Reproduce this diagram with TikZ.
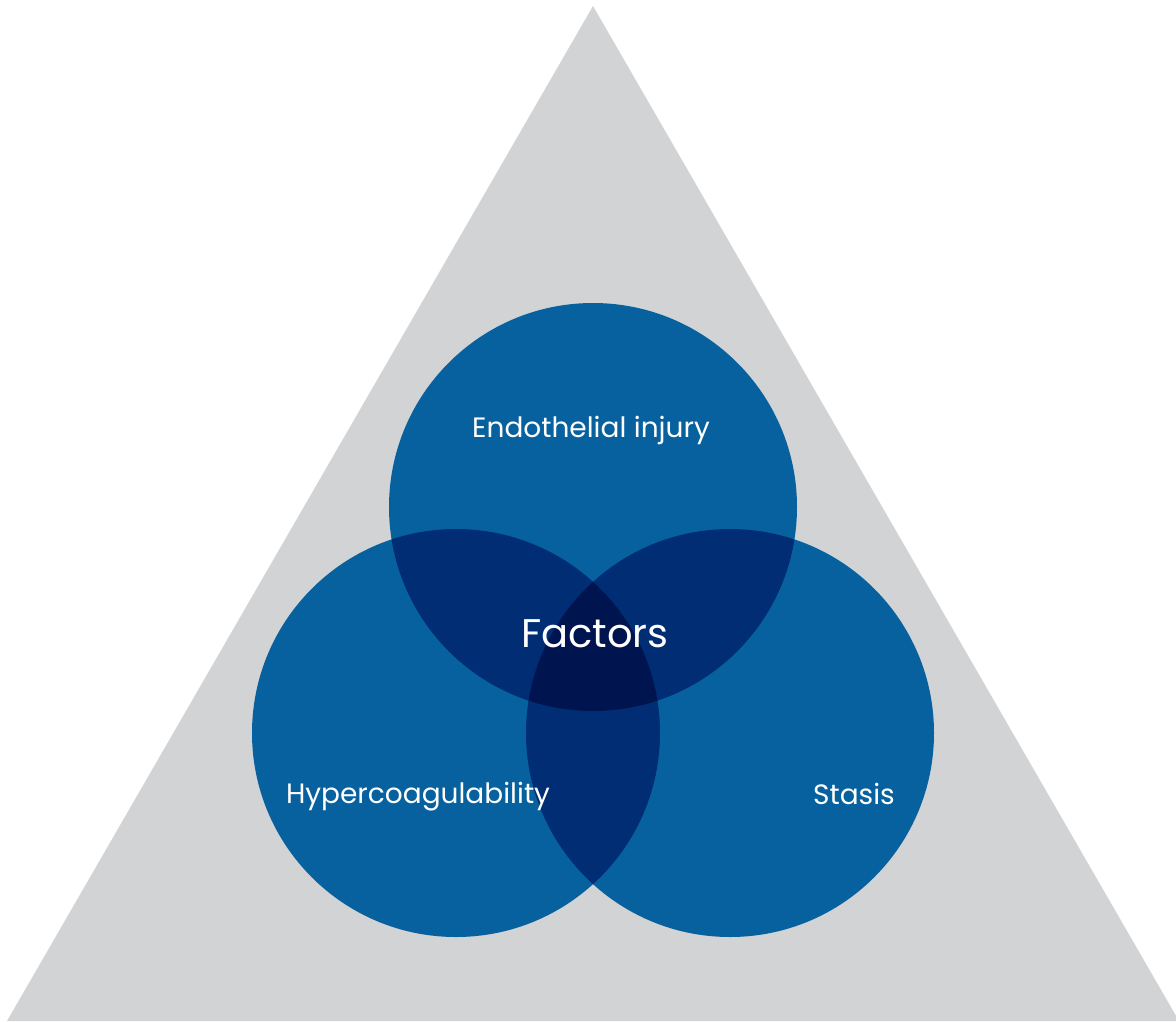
\documentclass[tikz,border=0pt]{standalone}
\usepackage{fontspec}
\setmainfont{Poppins}
\usetikzlibrary{positioning}
\definecolor{venngray}{HTML}{D1D3D4}
\definecolor{vennblue}{HTML}{08619F}
\definecolor{venndark}{HTML}{002D73}
\definecolor{venndeep}{HTML}{001550}
\tikzset{
  factor/.style={fill=vennblue},
  overlap/.style={fill=venndark},
  core/.style={fill=venndeep},
  label/.style={text=white, font=\fontsize{28}{31}\selectfont, inner sep=0pt}
}

\begin{document}
\begin{tikzpicture}[x=1pt, y=-1pt]
    \useasboundingbox (0,0) rectangle (1176,1021);
    % grey triangle behind the circles
    \fill[venngray] (593,6) -- (1179,1021) -- (7,1021) -- cycle;

    \coordinate (top) at (593,507);
    \coordinate (left) at (456,733);
    \coordinate (right) at (730,733);
    \def\r{204}

    \fill[factor] (top) circle (\r);
    \fill[factor] (left) circle (\r);
    \fill[factor] (right) circle (\r);

    % pairwise overlaps
    \begin{scope}
        \clip (top) circle (\r);
        \fill[overlap] (left) circle (\r);
        \fill[overlap] (right) circle (\r);
    \end{scope}
    \begin{scope}
        \clip (left) circle (\r);
        \fill[overlap] (right) circle (\r);
    \end{scope}
    % all three
    \begin{scope}
        \clip (top) circle (\r);
        \clip (left) circle (\r);
        \fill[core] (right) circle (\r);
    \end{scope}

    \node (endo) [label] at (591,430) {Endothelial injury};
    \node (factors) [label, font=\fontsize{40}{44}\selectfont] at (595,634) {Factors};
    \node (hyper) [label] at (418,797) {Hypercoagulability};
    \node (stasis) [label] at (854,794) {Stasis};
\end{tikzpicture}
\end{document}
